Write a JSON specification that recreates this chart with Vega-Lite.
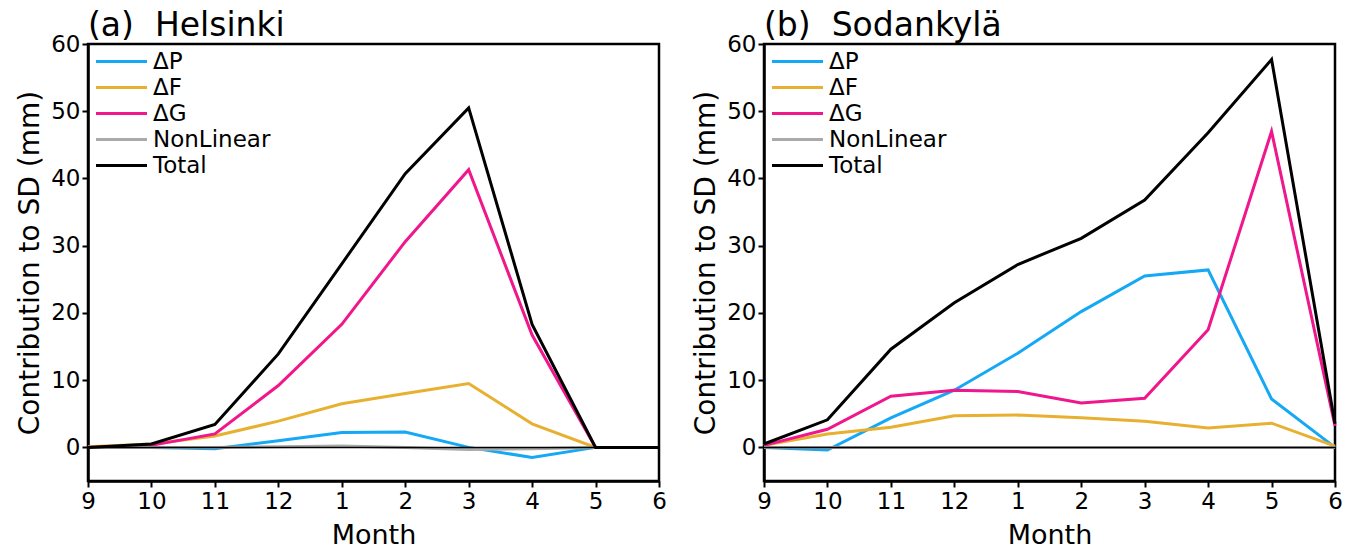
{
  "$schema": "https://vega.github.io/schema/vega-lite/v6.json",
  "padding": {"left": 15, "top": 8, "right": 5, "bottom": 0},
  "spacing": 105,
  "bounds": "flush",
  "datasets": {
    "hel": [
      {"m": 9, "s": "ΔP", "v": 0}, {"m": 10, "s": "ΔP", "v": 0}, {"m": 11, "s": "ΔP", "v": -0.2}, {"m": 12, "s": "ΔP", "v": 1.0}, {"m": 1, "s": "ΔP", "v": 2.2},
      {"m": 2, "s": "ΔP", "v": 2.3}, {"m": 3, "s": "ΔP", "v": 0}, {"m": 4, "s": "ΔP", "v": -1.5}, {"m": 5, "s": "ΔP", "v": 0}, {"m": 6, "s": "ΔP", "v": 0},
      {"m": 9, "s": "ΔF", "v": 0.1}, {"m": 10, "s": "ΔF", "v": 0.5}, {"m": 11, "s": "ΔF", "v": 1.7}, {"m": 12, "s": "ΔF", "v": 3.9}, {"m": 1, "s": "ΔF", "v": 6.5},
      {"m": 2, "s": "ΔF", "v": 8.0}, {"m": 3, "s": "ΔF", "v": 9.5}, {"m": 4, "s": "ΔF", "v": 3.5}, {"m": 5, "s": "ΔF", "v": 0}, {"m": 6, "s": "ΔF", "v": 0},
      {"m": 9, "s": "ΔG", "v": 0}, {"m": 10, "s": "ΔG", "v": 0.3}, {"m": 11, "s": "ΔG", "v": 2.0}, {"m": 12, "s": "ΔG", "v": 9.2}, {"m": 1, "s": "ΔG", "v": 18.3},
      {"m": 2, "s": "ΔG", "v": 30.6}, {"m": 3, "s": "ΔG", "v": 41.3}, {"m": 4, "s": "ΔG", "v": 16.7}, {"m": 5, "s": "ΔG", "v": 0}, {"m": 6, "s": "ΔG", "v": 0},
      {"m": 9, "s": "NonLinear", "v": 0}, {"m": 10, "s": "NonLinear", "v": 0}, {"m": 11, "s": "NonLinear", "v": 0}, {"m": 12, "s": "NonLinear", "v": 0.1}, {"m": 1, "s": "NonLinear", "v": 0.2},
      {"m": 2, "s": "NonLinear", "v": 0}, {"m": 3, "s": "NonLinear", "v": -0.3}, {"m": 4, "s": "NonLinear", "v": -0.2}, {"m": 5, "s": "NonLinear", "v": 0}, {"m": 6, "s": "NonLinear", "v": 0},
      {"m": 9, "s": "Total", "v": 0}, {"m": 10, "s": "Total", "v": 0.5}, {"m": 11, "s": "Total", "v": 3.4}, {"m": 12, "s": "Total", "v": 13.9}, {"m": 1, "s": "Total", "v": 27.3},
      {"m": 2, "s": "Total", "v": 40.7}, {"m": 3, "s": "Total", "v": 50.5}, {"m": 4, "s": "Total", "v": 18.3}, {"m": 5, "s": "Total", "v": 0}, {"m": 6, "s": "Total", "v": 0}
    ],
    "sod": [
      {"m": 9, "s": "ΔP", "v": 0}, {"m": 10, "s": "ΔP", "v": -0.4}, {"m": 11, "s": "ΔP", "v": 4.4}, {"m": 12, "s": "ΔP", "v": 8.5}, {"m": 1, "s": "ΔP", "v": 14.0},
      {"m": 2, "s": "ΔP", "v": 20.2}, {"m": 3, "s": "ΔP", "v": 25.5}, {"m": 4, "s": "ΔP", "v": 26.4}, {"m": 5, "s": "ΔP", "v": 7.2}, {"m": 6, "s": "ΔP", "v": 0},
      {"m": 9, "s": "ΔF", "v": 0.3}, {"m": 10, "s": "ΔF", "v": 2.0}, {"m": 11, "s": "ΔF", "v": 3.0}, {"m": 12, "s": "ΔF", "v": 4.7}, {"m": 1, "s": "ΔF", "v": 4.8},
      {"m": 2, "s": "ΔF", "v": 4.4}, {"m": 3, "s": "ΔF", "v": 3.9}, {"m": 4, "s": "ΔF", "v": 2.9}, {"m": 5, "s": "ΔF", "v": 3.6}, {"m": 6, "s": "ΔF", "v": 0.2},
      {"m": 9, "s": "ΔG", "v": 0.3}, {"m": 10, "s": "ΔG", "v": 2.7}, {"m": 11, "s": "ΔG", "v": 7.6}, {"m": 12, "s": "ΔG", "v": 8.5}, {"m": 1, "s": "ΔG", "v": 8.3},
      {"m": 2, "s": "ΔG", "v": 6.6}, {"m": 3, "s": "ΔG", "v": 7.3}, {"m": 4, "s": "ΔG", "v": 17.5}, {"m": 5, "s": "ΔG", "v": 47.0}, {"m": 6, "s": "ΔG", "v": 3.2},
      {"m": 9, "s": "NonLinear", "v": 0}, {"m": 10, "s": "NonLinear", "v": 0}, {"m": 11, "s": "NonLinear", "v": 0}, {"m": 12, "s": "NonLinear", "v": 0}, {"m": 1, "s": "NonLinear", "v": 0},
      {"m": 2, "s": "NonLinear", "v": 0}, {"m": 3, "s": "NonLinear", "v": 0}, {"m": 4, "s": "NonLinear", "v": 0}, {"m": 5, "s": "NonLinear", "v": 0}, {"m": 6, "s": "NonLinear", "v": 0},
      {"m": 9, "s": "Total", "v": 0.5}, {"m": 10, "s": "Total", "v": 4.1}, {"m": 11, "s": "Total", "v": 14.6}, {"m": 12, "s": "Total", "v": 21.5}, {"m": 1, "s": "Total", "v": 27.2},
      {"m": 2, "s": "Total", "v": 31.1}, {"m": 3, "s": "Total", "v": 36.8}, {"m": 4, "s": "Total", "v": 46.8}, {"m": 5, "s": "Total", "v": 57.7}, {"m": 6, "s": "Total", "v": 3.5}
    ],
    "zero": [{"y": 0}]
  },
  "hconcat": [
    {
      "width": 571,
      "height": 437,
      "title": {"text": "(a)\u00a0\u00a0Helsinki"},
      "layer": [
        {
          "data": {"name": "hel"},
          "mark": {"type": "line", "strokeWidth": 3},
          "encoding": {
            "x": {"field": "m", "type": "ordinal", "sort": [9, 10, 11, 12, 1, 2, 3, 4, 5, 6], "scale": {"type": "point", "padding": 0}, "title": "Month"},
            "y": {"field": "v", "type": "quantitative", "scale": {"domain": [-5, 60], "nice": false, "zero": false}, "axis": {"values": [0, 10, 20, 30, 40, 50, 60]}, "title": "Contribution to SD (mm)"},
            "color": {"field": "s", "type": "nominal", "scale": {"domain": ["ΔP", "ΔF", "ΔG", "NonLinear", "Total"], "range": ["#14a8f5", "#e8b030", "#f0168c", "#aaaaaa", "#000000"]}, "legend": {"orient": "top-left"}}
          }
        },
        {
          "data": {"name": "zero"},
          "mark": {"type": "rule", "color": "black", "strokeWidth": 1.5},
          "encoding": {"y": {"field": "y", "type": "quantitative"}}
        }
      ]
    },
    {
      "width": 571,
      "height": 437,
      "title": {"text": "(b)\u00a0\u00a0Sodankylä"},
      "layer": [
        {
          "data": {"name": "sod"},
          "mark": {"type": "line", "strokeWidth": 3},
          "encoding": {
            "x": {"field": "m", "type": "ordinal", "sort": [9, 10, 11, 12, 1, 2, 3, 4, 5, 6], "scale": {"type": "point", "padding": 0}, "title": "Month"},
            "y": {"field": "v", "type": "quantitative", "scale": {"domain": [-5, 60], "nice": false, "zero": false}, "axis": {"values": [0, 10, 20, 30, 40, 50, 60]}, "title": "Contribution to SD (mm)"},
            "color": {"field": "s", "type": "nominal", "scale": {"domain": ["ΔP", "ΔF", "ΔG", "NonLinear", "Total"], "range": ["#14a8f5", "#e8b030", "#f0168c", "#aaaaaa", "#000000"]}, "legend": {"orient": "top-left"}}
          }
        },
        {
          "data": {"name": "zero"},
          "mark": {"type": "rule", "color": "black", "strokeWidth": 1.5},
          "encoding": {"y": {"field": "y", "type": "quantitative"}}
        }
      ]
    }
  ],
  "resolve": {"legend": {"color": "independent"}, "scale": {"y": "independent", "x": "independent"}},
  "config": {
    "font": "DejaVu Sans",
    "view": {"stroke": "black", "strokeWidth": 2.5},
    "title": {"anchor": "start", "frame": "group", "fontSize": 33, "fontWeight": "normal", "color": "black", "baseline": "bottom", "offset": -10},
    "axis": {
      "grid": false,
      "domainColor": "black",
      "domainWidth": 2.5,
      "tickColor": "black",
      "tickWidth": 2,
      "tickSize": 6,
      "labelColor": "black",
      "labelFontSize": 23,
      "labelPadding": 2,
      "titleColor": "black",
      "titleFontWeight": "normal"
    },
    "axisX": {"labelAngle": 0, "titleFontSize": 27, "titlePadding": 9, "labelPadding": 3},
    "axisY": {"titleFontSize": 28, "titlePadding": 6},
    "legend": {
      "title": null,
      "padding": 0,
      "offset": 6,
      "symbolType": "M-5,0H5",
      "symbolSize": 104,
      "symbolStrokeWidth": 3,
      "symbolOffset": 16,
      "labelOffset": 20,
      "labelFontSize": 23,
      "labelColor": "black",
      "rowPadding": 2
    }
  }
}
